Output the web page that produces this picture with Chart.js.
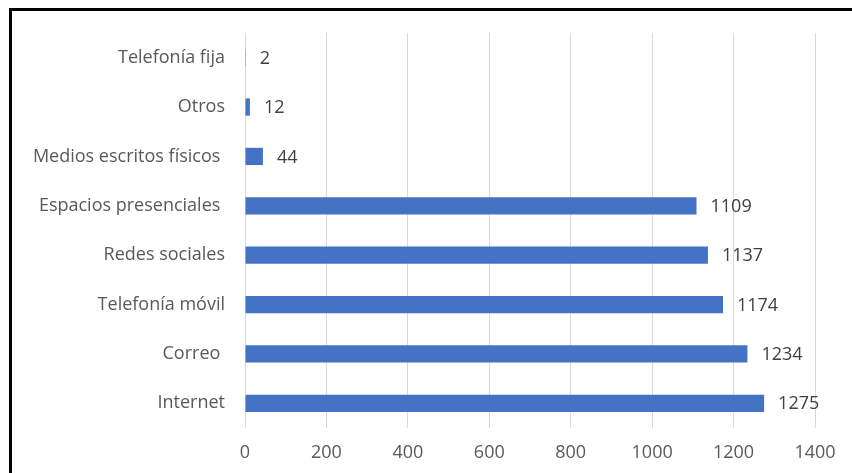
<!DOCTYPE html>
<html><head><meta charset="utf-8">
<script src="https://cdn.jsdelivr.net/npm/chart.js@4"></script>
<style>
html,body{margin:0;padding:0;background:#fff;}
#wrap{position:relative;width:852px;height:473px;overflow:hidden;}
#frame{position:absolute;left:9px;top:8px;width:900px;height:500px;border-top:3px solid #000;border-left:3px solid #000;}
canvas{position:absolute;left:0;top:0;}
</style></head>
<body>
<div id="wrap"><div id="frame"></div><canvas id="c" width="852" height="473"></canvas></div>
<script>
const categories = ["Telefonía fija","Otros","Medios escritos físicos ","Espacios presenciales ","Redes sociales","Telefonía móvil","Correo ","Internet"];
const values = [2,12,44,1109,1137,1174,1234,1275];
const xTicks = [0,200,400,600,800,1000,1200,1400];
const FONT = '"Open Sans", sans-serif';

const labelPlugin = {
  id:'barLabels',
  afterDatasetsDraw(chart){
    const ctx = chart.ctx;
    const meta = chart.getDatasetMeta(0);
    ctx.save();
    ctx.font = '18px ' + FONT;
    ctx.fillStyle = '#404040';
    ctx.textAlign = 'left';
    ctx.textBaseline = 'middle';
    meta.data.forEach((el,i)=>{
      ctx.fillText(String(values[i]), el.x + 14, el.y + 1);
    });
    ctx.restore();
  }
};

new Chart(document.getElementById('c'), {
  type:'bar',
  data:{labels:categories, datasets:[{data:values, backgroundColor:'#4472C4', borderWidth:0, categoryPercentage:1, barPercentage:0.35}]},
  options:{
    indexAxis:'y', responsive:false, animation:false,
    layout:{padding:{top:33,right:37,left:0,bottom:0}},
    plugins:{legend:{display:false}, tooltip:{enabled:false}},
    scales:{
      x:{min:0,max:1400,
        afterBuildTicks(s){ s.ticks = xTicks.map(v=>({value:v})); },
        afterFit(s){ s.height = 45; },
        grid:{color:'#d9d9d9', drawTicks:false, lineWidth:1},
        border:{display:false},
        ticks:{padding:14, color:'#595959', font:{family:FONT, size:18}, callback:(v)=>String(v)}
      },
      y:{
        afterFit(s){ s.width = 245; },
        grid:{display:false, drawTicks:false},
        border:{display:false},
        ticks:{padding:20, color:'#595959', font:{family:FONT, size:18}}
      }
    }
  },
  plugins:[labelPlugin]
});
</script>
</body></html>
